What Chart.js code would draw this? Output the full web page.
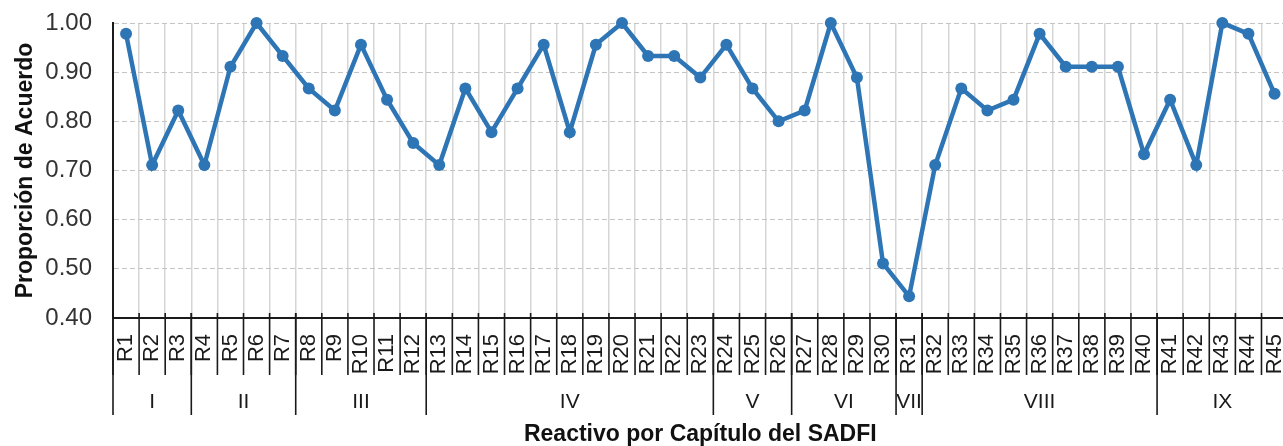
<!DOCTYPE html>
<html>
<head>
<meta charset="utf-8">
<script src="https://cdn.jsdelivr.net/npm/chart.js@4/dist/chart.umd.min.js"></script>
<style>
  html, body { margin: 0; padding: 0; background: #fff; overflow: hidden; }
  #wrap { width: 1317px; height: 446px; }
</style>
</head>
<body>
<div id="wrap"><canvas id="chart" width="1317" height="446"></canvas></div>
<script>
// Reactivos R1..R45
const items = ['R1', 'R2', 'R3', 'R4', 'R5', 'R6', 'R7', 'R8', 'R9', 'R10',
  'R11', 'R12', 'R13', 'R14', 'R15', 'R16', 'R17', 'R18', 'R19', 'R20',
  'R21', 'R22', 'R23', 'R24', 'R25', 'R26', 'R27', 'R28', 'R29', 'R30',
  'R31', 'R32', 'R33', 'R34', 'R35', 'R36', 'R37', 'R38', 'R39', 'R40',
  'R41', 'R42', 'R43', 'R44', 'R45'];

const agreement = [0.978, 0.711, 0.822, 0.711, 0.911, 1.000, 0.933, 0.867, 0.822, 0.956,
  0.844, 0.756, 0.711, 0.867, 0.778, 0.867, 0.956, 0.778, 0.956, 1.000,
  0.933, 0.933, 0.889, 0.956, 0.867, 0.800, 0.822, 1.000, 0.889, 0.511,
  0.444, 0.711, 0.867, 0.822, 0.844, 0.978, 0.911, 0.911, 0.911, 0.733,
  0.844, 0.711, 1.000, 0.978, 0.856];

// Capítulos y número de reactivos en cada uno
const chapters = ['I', 'II', 'III', 'IV', 'V', 'VI', 'VII', 'VIII', 'IX'];
const chapterSizes = [3, 4, 5, 11, 3, 4, 1, 9, 5];

const yMin = 0.40;
const yMax = 1.00;
const yStep = 0.10;

const FONT = '"Liberation Sans", Arial, sans-serif';

// separadores de reactivos y capítulos bajo el eje x
const chapterAxis = {
  id: 'chapterAxis',
  afterDraw(chart) {
    const ctx = chart.ctx;
    const x = chart.scales.x;
    const base = chart.chartArea.bottom;
    ctx.save();
    ctx.strokeStyle = '#1a1a1a';
    ctx.lineWidth = 1.6;
    for (let i = 0; i <= items.length; i++) {
      const px = x.getPixelForValue(i - 0.5);
      ctx.beginPath();
      ctx.moveTo(px, base - 5);
      ctx.lineTo(px, base + 57);
      ctx.stroke();
    }
    ctx.font = '21px ' + FONT;
    ctx.fillStyle = '#1a1a1a';
    ctx.textAlign = 'center';
    ctx.textBaseline = 'middle';
    let start = 0;
    chapters.forEach((name, k) => {
      const end = start + chapterSizes[k];
      const a = x.getPixelForValue(start - 0.5);
      const b = x.getPixelForValue(end - 0.5);
      ctx.beginPath();
      ctx.moveTo(a, base - 5);
      ctx.lineTo(a, base + 97);
      ctx.stroke();
      if (k === chapters.length - 1) {
        ctx.beginPath();
        ctx.moveTo(b, base - 5);
        ctx.lineTo(b, base + 97);
        ctx.stroke();
      }
      ctx.fillText(name, (a + b) / 2, base + 84);
      start = end;
    });
    ctx.restore();
  }
};

new Chart(document.getElementById('chart'), {
  type: 'line',
  data: {
    labels: items,
    datasets: [{
      data: agreement,
      borderColor: '#2E75B6',
      backgroundColor: '#2E75B6',
      borderWidth: 4.5,
      pointRadius: 6,
      pointBorderWidth: 0,
      pointBackgroundColor: '#2E75B6',
      tension: 0,
      clip: false
    }]
  },
  options: {
    responsive: false,
    animation: false,
    layout: { padding: { top: 23, right: 3 } },
    plugins: { legend: { display: false }, tooltip: { enabled: false } },
    scales: {
      x: {
        offset: true,
        afterFit: (s) => { s.height = 128; },
        grid: { offset: true, color: '#d6d6d6', lineWidth: 1.5, drawTicks: false },
        border: { color: '#1a1a1a', width: 2 },
        ticks: {
          autoSkip: false, minRotation: 90, maxRotation: 90, padding: 16,
          color: '#1a1a1a', font: { family: FONT, size: 22 }
        },
        title: {
          display: true, text: 'Reactivo por Capítulo del SADFI', color: '#111',
          font: { family: FONT, size: 23, weight: 'bold', lineHeight: 1 },
          padding: { top: 0, bottom: 0 }
        }
      },
      y: {
        min: yMin,
        max: yMax,
        afterFit: (s) => { s.width = 113; s.paddingTop = 0; s.paddingBottom = 0; },
        grid: { color: '#c4c4c4', lineWidth: 1, drawTicks: false },
        border: { color: '#1a1a1a', width: 2, dash: [5, 3] },
        ticks: {
          stepSize: yStep, padding: 21, color: '#333',
          font: { family: FONT, size: 24 },
          callback: (v) => v.toFixed(2)
        },
        title: {
          display: true, text: 'Proporción de Acuerdo', color: '#111',
          font: { family: FONT, size: 23, weight: 'bold', lineHeight: 1 },
          padding: { top: 14, bottom: 14 }
        }
      }
    }
  },
  plugins: [chapterAxis]
});
</script>
</body>
</html>
